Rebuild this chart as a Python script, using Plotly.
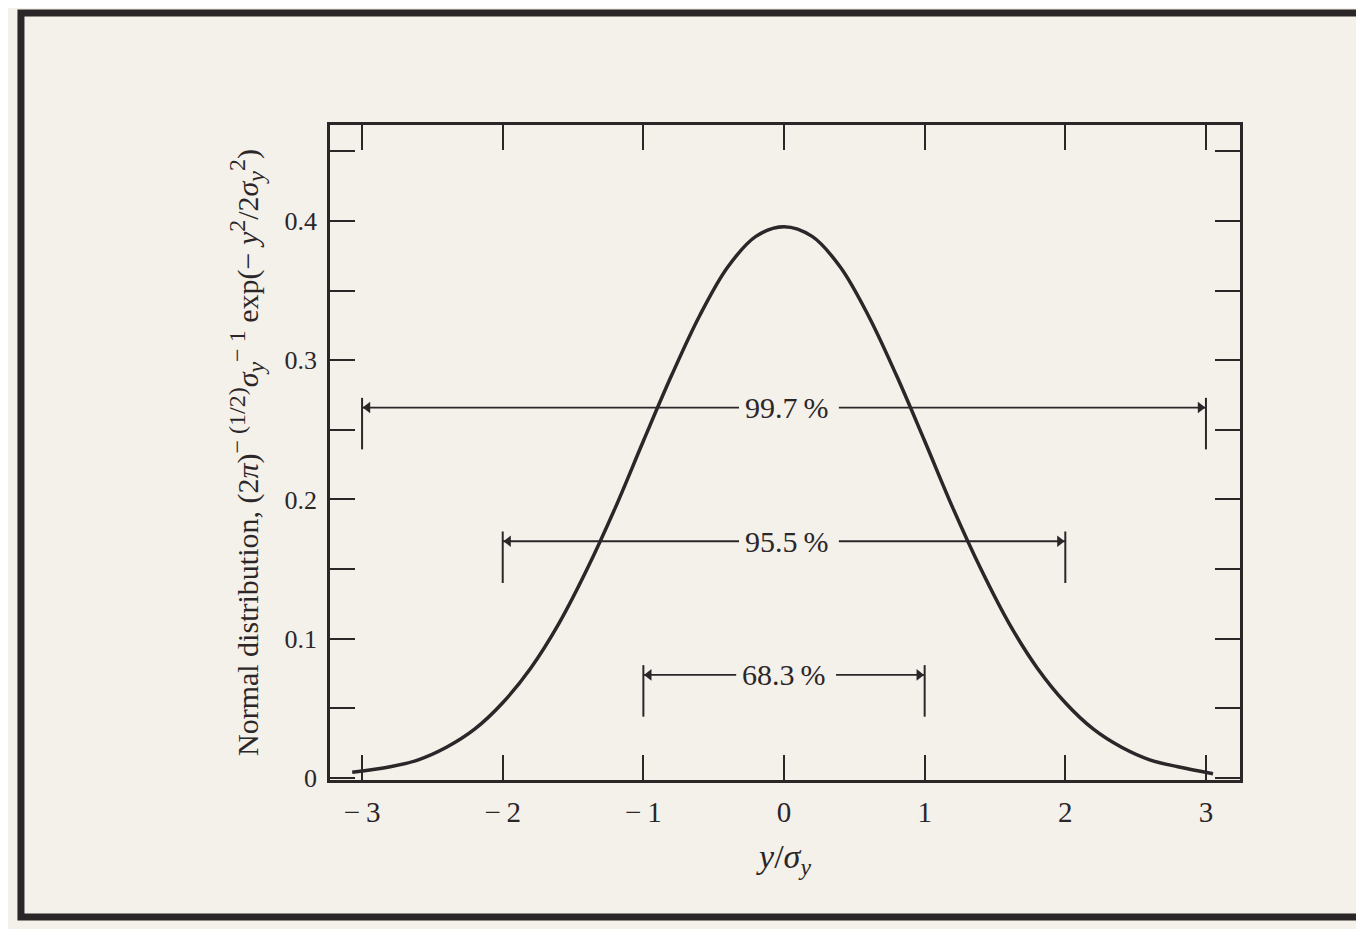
import plotly.graph_objects as go

# ---- data ----
curve_x = [-3.07, -2.8, -2.6, -2.4, -2.2, -2.0, -1.8, -1.6, -1.4, -1.2, -1.0, -0.8, -0.6, -0.4, -0.2, 0.0,
           0.2, 0.4, 0.6, 0.8, 1.0, 1.2, 1.4, 1.6, 1.8, 2.0, 2.2, 2.4, 2.6, 2.8, 3.05]
curve_y = [0.004, 0.008, 0.013, 0.022, 0.035, 0.054, 0.079, 0.111, 0.150, 0.194, 0.242, 0.289, 0.332, 0.367, 0.389, 0.396,
           0.389, 0.367, 0.332, 0.289, 0.242, 0.194, 0.150, 0.111, 0.079, 0.054, 0.035, 0.022, 0.013, 0.008, 0.003]

band_labels = ["99.7\u2009%", "95.5\u2009%", "68.3\u2009%"]
band_half = [3, 2, 1]
band_y = [0.266, 0.170, 0.074]
band_text_x = [0.02, 0.02, 0.0]

x_ticks = [-3, -2, -1, 0, 1, 2, 3]
x_ticktext = ["\u2212\u20093", "\u2212\u20092", "\u2212\u20091", "0", "1", "2", "3"]
y_ticks = [0, 0.1, 0.2, 0.3, 0.4]
y_ticktext = ["0", "0.1", "0.2", "0.3", "0.4"]

INK = "#2b2628"
PAPER = "#f4f0ea"
FONT = "Liberation Serif"

fig = go.Figure()
fig.add_trace(go.Scatter(x=curve_x, y=curve_y, mode="lines",
                         line=dict(color=INK, width=3.5, shape="spline", smoothing=1.0),
                         hoverinfo="skip", showlegend=False))

shapes = []
annotations = []
for lab, h, yv, tx in zip(band_labels, band_half, band_y, band_text_x):
    # vertical end bars
    for xe in (-h, h):
        shapes.append(dict(type="line", xref="x", yref="y", x0=xe, x1=xe,
                           y0=yv - 0.030, y1=yv + 0.007, line=dict(color=INK, width=2)))
    # label
    annotations.append(dict(x=tx, y=yv, xref="x", yref="y", text=lab, showarrow=False,
                            font=dict(family=FONT, size=30, color=INK),
                            xanchor="center", yanchor="middle"))
    # horizontal dimension lines
    fig.add_trace(go.Scatter(x=[-h, tx - 0.34, None, tx + 0.37, h], y=[yv, yv, None, yv, yv],
                             mode="lines", line=dict(color=INK, width=1.8),
                             hoverinfo="skip", showlegend=False))
    # arrow heads
    fig.add_trace(go.Scatter(x=[-h + 0.04, h - 0.04], y=[yv, yv], mode="markers",
                             marker=dict(symbol=["triangle-left", "triangle-right"], size=10,
                                         color=INK, line=dict(width=0)),
                             hoverinfo="skip", showlegend=False))

# page frame (scanned figure border)
shapes.append(dict(type="rect", xref="paper", yref="paper",
                   x0=-0.3396, x1=1.16, y0=-0.209, y1=1.171,
                   line=dict(color=INK, width=7), fillcolor="rgba(0,0,0,0)", layer="below"))

SUP = '<sup><span style="font-size:24px">{}</span></sup>'
SUB = '<sub><span style="font-size:24px">{}</span></sub>'
y_title = ("Normal distribution, (2<i>π</i>)" + SUP.format("− (1/2)")
           + "<i>σ</i>" + SUB.format("<i>y</i>") + SUP.format("− 1")
           + " exp(− <i>y</i>" + SUP.format("2") + "/2<i>σ</i>" + SUB.format("<i>y</i>")
           + SUP.format("2") + ")")

fig.update_layout(
    width=1356, height=921,
    margin=dict(l=322, r=124, t=117, b=149),
    paper_bgcolor=PAPER, plot_bgcolor=PAPER,
    font=dict(family=FONT, size=26, color=INK),
    shapes=shapes, annotations=annotations,
    showlegend=False,
)
fig.update_xaxes(range=[-3.228, 3.242], tickvals=x_ticks, ticktext=x_ticktext,
                 ticks="inside", ticklen=25, tickwidth=2, tickcolor=INK,
                 showline=True, linecolor=INK, linewidth=2.5, mirror="ticks",
                 showgrid=False, zeroline=False, ticklabelstandoff=4,
                 tickfont=dict(family=FONT, size=29, color=INK),
                 title=dict(text="<i>y</i>/<i>σ</i><sub><i>y</i></sub>",
                            font=dict(family=FONT, size=34, color=INK), standoff=18))
fig.update_yaxes(range=[-0.0015, 0.469], tickvals=y_ticks, ticktext=y_ticktext,
                 ticks="inside", ticklen=25, tickwidth=2, tickcolor=INK,
                 minor=dict(tickvals=[0.05, 0.15, 0.25, 0.35, 0.45], ticks="inside",
                            ticklen=25, tickwidth=2, tickcolor=INK, showgrid=False),
                 showline=True, linecolor=INK, linewidth=2.5, mirror="ticks",
                 showgrid=False, zeroline=False, ticklabelstandoff=5,
                 tickfont=dict(family=FONT, size=26, color=INK),
                 title=dict(text=y_title,
                            font=dict(family=FONT, size=30, color=INK), standoff=18))

fig.write_html("out.html")
